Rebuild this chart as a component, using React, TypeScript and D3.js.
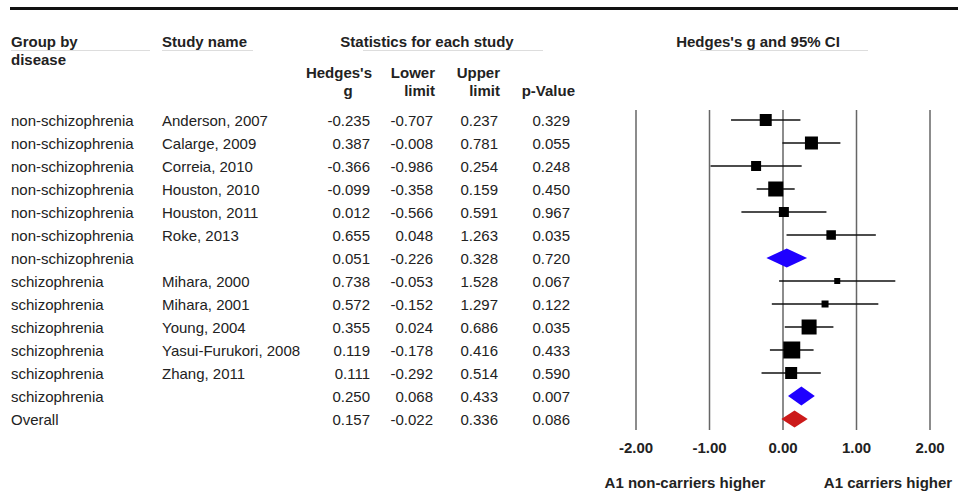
import * as d3 from "d3"

const groups = [
  "non-schizophrenia", "non-schizophrenia", "non-schizophrenia", "non-schizophrenia",
  "non-schizophrenia", "non-schizophrenia", "non-schizophrenia",
  "schizophrenia", "schizophrenia", "schizophrenia", "schizophrenia", "schizophrenia",
  "schizophrenia", "Overall",
]
const studies = [
  "Anderson, 2007", "Calarge, 2009", "Correia, 2010", "Houston, 2010", "Houston, 2011",
  "Roke, 2013", "", "Mihara, 2000", "Mihara, 2001", "Young, 2004",
  "Yasui-Furukori, 2008", "Zhang, 2011", "", "",
]
const hedges = [-0.235, 0.387, -0.366, -0.099, 0.012, 0.655, 0.051, 0.738, 0.572, 0.355, 0.119, 0.111, 0.25, 0.157]
const lower = [-0.707, -0.008, -0.986, -0.358, -0.566, 0.048, -0.226, -0.053, -0.152, 0.024, -0.178, -0.292, 0.068, -0.022]
const upper = [0.237, 0.781, 0.254, 0.159, 0.591, 1.263, 0.328, 1.528, 1.297, 0.686, 0.416, 0.514, 0.433, 0.336]
const pValues = [0.329, 0.055, 0.248, 0.45, 0.967, 0.035, 0.72, 0.067, 0.122, 0.035, 0.433, 0.59, 0.007, 0.086]
// relative weight -> square size; 0 = summary diamond
const weights = [12, 13, 10, 15, 10, 9.5, 0, 6, 7, 15, 17, 12, 0, 0]
const summaryKind = ["", "", "", "", "", "", "sub", "", "", "", "", "", "sub", "all"]
const ticks = [-2, -1, 0, 1, 2]

const W = 958
const H = 498
const FONT = "'Liberation Sans', Arial, sans-serif"
const TXT = "#222"

export default function App() {
  const x = d3.scaleLinear().domain([-2, 2]).range([636, 930])
  const rowIdx = d3.range(hedges.length)
  const y = d3.scalePoint<number>().domain(rowIdx).range([120, 419])
  const sz = d3.scaleLinear().domain([0, 17]).range([0, 17])
  const fmt = (v: number) => v.toFixed(3)
  const head = { fontFamily: FONT, fontWeight: 700, fontSize: 15, fill: TXT }
  const body = { fontFamily: FONT, fontSize: 15, fill: TXT }

  const diamond = (i: number) => {
    const cy = y(i)!
    const h = summaryKind[i] === "all" ? 8.5 : 9.5
    return `M${x(lower[i])},${cy} L${x(hedges[i])},${cy - h} L${x(upper[i])},${cy} L${x(hedges[i])},${cy + h} Z`
  }

  return (
    <svg width={W} height={H} style={{ position: "absolute", left: 0, top: 0, background: "#fff" }}>
      <line x1={10} x2={W} y1={8.5} y2={8.5} stroke="#111" strokeWidth={3} />

      {/* header */}
      <text x={11} y={47} {...head}>Group by</text>
      <text x={11} y={65} {...head}>disease</text>
      <line x1={11} x2={150} y1={50.5} y2={50.5} stroke="#ddd" />
      <text x={162} y={47} {...head}>Study name</text>
      <line x1={162} x2={253} y1={50.5} y2={50.5} stroke="#ddd" />
      <text x={427} y={47} textAnchor="middle" {...head}>Statistics for each study</text>
      <line x1={363} x2={543} y1={50.5} y2={50.5} stroke="#ddd" />
      <text x={758} y={47} textAnchor="middle" {...head}>Hedges's g and 95% CI</text>
      <line x1={700} x2={868} y1={50.5} y2={50.5} stroke="#ddd" />

      <text x={372} y={78} textAnchor="end" {...head}>Hedges's</text>
      <text x={348} y={96} textAnchor="middle" {...head}>g</text>
      <text x={435} y={78} textAnchor="end" {...head}>Lower</text>
      <text x={435} y={96} textAnchor="end" {...head}>limit</text>
      <text x={500} y={78} textAnchor="end" {...head}>Upper</text>
      <text x={500} y={96} textAnchor="end" {...head}>limit</text>
      <text x={575} y={96} textAnchor="end" {...head}>p-Value</text>

      {/* table rows */}
      {rowIdx.map((i) => (
        <g key={i} transform={`translate(0,${y(i)! + 6})`}>
          <text x={11} {...body}>{groups[i]}</text>
          <text x={162} {...body}>{studies[i]}</text>
          <text x={370} textAnchor="end" {...body}>{fmt(hedges[i])}</text>
          <text x={433} textAnchor="end" {...body}>{fmt(lower[i])}</text>
          <text x={498} textAnchor="end" {...body}>{fmt(upper[i])}</text>
          <text x={570} textAnchor="end" {...body}>{fmt(pValues[i])}</text>
        </g>
      ))}

      {/* grid lines */}
      {ticks.map((t) => (
        <line key={t} x1={x(t)} x2={x(t)} y1={110} y2={430} stroke="#666" strokeWidth={1.5} />
      ))}

      {/* study marks */}
      {rowIdx.map((i) =>
        summaryKind[i] ? (
          <path key={i} d={diamond(i)} fill={summaryKind[i] === "all" ? "#cc1a1a" : "#1f00ff"} />
        ) : (
          <g key={i}>
            <line x1={x(lower[i])} x2={x(upper[i])} y1={y(i)} y2={y(i)} stroke="#111" strokeWidth={1.5} />
            <rect
              x={x(hedges[i]) - sz(weights[i]) / 2}
              y={y(i)! - sz(weights[i]) / 2}
              width={sz(weights[i])}
              height={sz(weights[i])}
              fill="#000"
            />
          </g>
        )
      )}

      {/* axis labels */}
      {ticks.map((t) => (
        <text key={t} x={x(t)} y={453} textAnchor="middle" {...head}>{t.toFixed(2)}</text>
      ))}
      <text x={685} y={488} textAnchor="middle" {...head}>A1 non-carriers higher</text>
      <text x={888} y={488} textAnchor="middle" {...head}>A1 carriers higher</text>
    </svg>
  )
}
